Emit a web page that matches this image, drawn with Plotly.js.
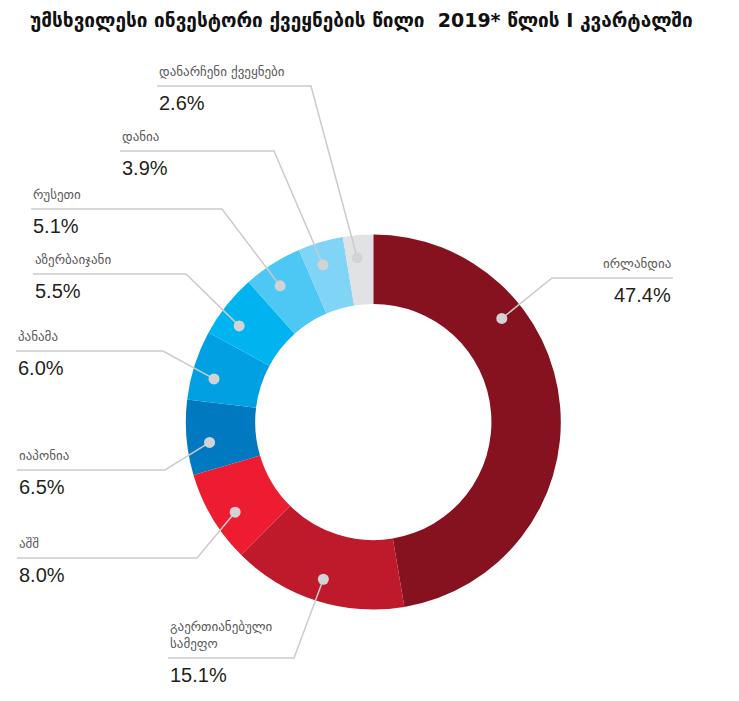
<!DOCTYPE html>
<html>
<head>
<meta charset="utf-8">
<script src="https://cdn.plot.ly/plotly-3.0.1.min.js"></script>
<style>html,body{margin:0;padding:0;background:#fff;}#chart{width:739px;height:701px;}</style>
</head>
<body>
<div id="chart"></div>
<script>
// ---- data ----
const titleText = 'უმსხვილესი ინვესტორი ქვეყნების წილი  2019* წლის I კვარტალში';
const countries = ['ირლანდია', 'გაერთიანებული<br>სამეფო', 'აშშ', 'იაპონია', 'პანამა', 'აზერბაიჯანი', 'რუსეთი', 'დანია', 'დანარჩენი ქვეყნები'];
const shares = [47.4, 15.1, 8.0, 6.5, 6.0, 5.5, 5.1, 3.9, 2.6];
const shareLabels = ['47.4%', '15.1%', '8.0%', '6.5%', '6.0%', '5.5%', '5.1%', '3.9%', '2.6%'];
const colors = ['#87121F', '#BE1A2B', '#ED1C31', '#0079C1', '#00A0E3', '#00B5EF', '#4DC8F4', '#80D4F6', '#E1E2E4'];

// ---- layout helpers (positions only, in pixels) ----
const W = 739, H = 701;
const cx = 373.3, cy = 422, R = 187.5, holeFrac = 0.63, dotR = 165;
// label anchor x, leader line y, leader bend x, side
const labelX = [673, 168, 17, 17, 16, 33, 31, 120, 157];
const lineY = [278, 658, 558, 470, 351, 274, 209, 151, 86];
const bendX = [552, 294, 197, 165, 163, 186, 222, 274, 311];
const rightAligned = [true, false, false, false, false, false, false, false, false];
const dotFrac = [0.3, 0.5, 0.42, 0.4, 0.38, 0.36, 0.4, 0.4, 0.4];

const total = shares.reduce((a, b) => a + b, 0);
let cum = 0;
const annotations = [];
const lineShapes = [], dotShapes = [];
shares.forEach((v, i) => {
  const ang = (cum + v * dotFrac[i]) / total * 2 * Math.PI;
  cum += v;
  const dx = cx + dotR * Math.sin(ang);
  const dy = cy - dotR * Math.cos(ang);
  lineShapes.push({
    type: 'path', xref: 'x', yref: 'y', layer: 'above',
    path: `M ${labelX[i]},${lineY[i]} L ${bendX[i]},${lineY[i]} L ${dx},${dy}`,
    line: {color: '#CBCBCB', width: 1.5}
  });
  dotShapes.push({
    type: 'circle', xref: 'x', yref: 'y', layer: 'above',
    x0: dx - 5.5, x1: dx + 5.5, y0: dy - 5.5, y1: dy + 5.5,
    fillcolor: '#D1D3D4', line: {width: 0}
  });
  annotations.push({
    xref: 'x', yref: 'y', x: labelX[i], y: lineY[i] - 5,
    xanchor: rightAligned[i] ? 'right' : 'left', yanchor: 'bottom',
    align: rightAligned[i] ? 'right' : 'left',
    text: countries[i], showarrow: false,
    font: {family: 'DejaVu Sans', size: 13, color: '#5a5a5a'}
  });
  annotations.push({
    xref: 'x', yref: 'y', x: labelX[i], y: lineY[i] + 4,
    xanchor: rightAligned[i] ? 'right' : 'left', yanchor: 'top',
    text: shareLabels[i], showarrow: false,
    font: {family: 'Liberation Sans, Arial, sans-serif', size: 20, color: '#231F20'}
  });
});

const pie = {
  type: 'pie', values: shares, labels: countries.map(s => s.replace('<br>', ' ')),
  marker: {colors: colors, line: {width: 0}},
  hole: holeFrac, sort: false, direction: 'clockwise', rotation: 0,
  textinfo: 'none', hoverinfo: 'skip', showlegend: false,
  domain: {x: [(cx - R) / W, (cx + R) / W], y: [(H - cy - R) / H, (H - cy + R) / H]}
};
const dummy = {type: 'scatter', x: [0], y: [0], mode: 'markers', marker: {opacity: 0}, hoverinfo: 'skip', showlegend: false};

const layout = {
  width: W, height: H,
  margin: {l: 0, r: 0, t: 0, b: 0},
  paper_bgcolor: '#ffffff', plot_bgcolor: 'rgba(0,0,0,0)',
  xaxis: {range: [0, W], visible: false, fixedrange: true},
  yaxis: {range: [H, 0], visible: false, fixedrange: true},
  title: {
    text: titleText, x: 30 / W, xanchor: 'left', xref: 'paper',
    y: 1 - 20 / H, yanchor: 'middle', yref: 'container',
    font: {family: 'DejaVu Sans', size: 19, color: '#111111', weight: 'bold'}
  },
  shapes: lineShapes.concat(dotShapes),
  annotations: annotations,
  showlegend: false
};
Plotly.newPlot('chart', [dummy, pie], layout, {displayModeBar: false, staticPlot: true});
</script>
</body>
</html>
